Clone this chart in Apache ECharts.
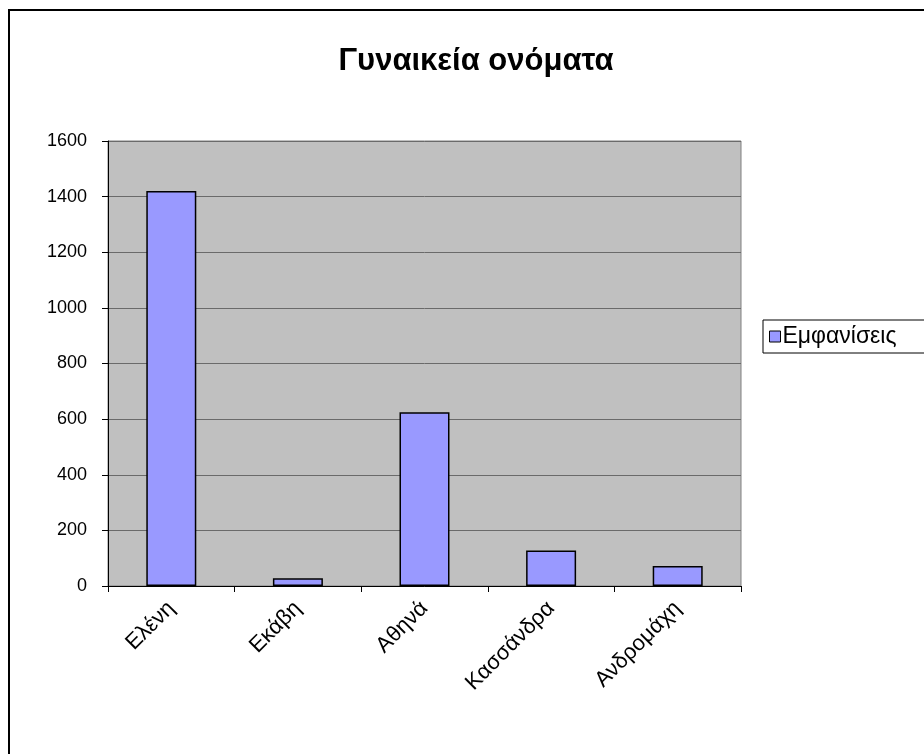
<!DOCTYPE html>
<html>
<head>
<meta charset="utf-8">
<style>
  html, body { margin: 0; padding: 0; background: #fff; }
  #myReport { width: 924px; height: 754px; }
</style>
</head>
<body>
<div id="myReport"></div>
<script type="text/javascript" src="https://cdn.jsdelivr.net/npm/echarts@6/dist/echarts.min.js"></script>
<script type="text/javascript">
var names = ['Ελένη', 'Εκάβη', 'Αθηνά', 'Κασσάνδρα', 'Ανδρομάχη'];
var counts = [1420, 28, 625, 128, 72];
var seriesName = 'Εμφανίσεις';
var chartTitle = 'Γυναικεία ονόματα';

var font = '"Liberation Sans", Arial, sans-serif';
var myChart = echarts.init(document.getElementById('myReport'));
var option = {
    backgroundColor: '#fff',
    animation: false,
    textStyle: { fontFamily: font },
    graphic: [{
        type: 'rect',
        shape: { x: 9, y: 10, width: 1000, height: 1000 },
        style: { fill: 'none', stroke: '#000', lineWidth: 2 },
        silent: true
    }],
    title: {
        text: chartTitle,
        left: 471,
        textAlign: 'center',
        top: 41,
        textStyle: { fontSize: 31, fontWeight: 'bold', color: '#000', fontFamily: font }
    },
    legend: {
        data: [seriesName],
        left: 763,
        top: 320,
        orient: 'vertical',
        borderColor: '#000',
        borderWidth: 1,
        padding: [5, 60, 5, 6],
        itemWidth: 11,
        itemHeight: 11,
        icon: 'rect',
        itemStyle: { borderColor: '#000', borderWidth: 1 },
        textStyle: { fontSize: 23, color: '#000', fontFamily: font, padding: [0, 0, 0, -3] }
    },
    grid: {
        left: 108,
        top: 141,
        width: 633,
        height: 445,
        show: true,
        backgroundColor: '#c0c0c0',
        borderColor: '#808080',
        borderWidth: 1
    },
    xAxis: {
        type: 'category',
        data: names,
        axisLine: { lineStyle: { color: '#000', width: 1 } },
        axisTick: { show: true, length: 6, lineStyle: { color: '#000' } },
        axisLabel: {
            interval: 0,
            rotate: 45,
            fontSize: 22,
            color: '#000',
            margin: 19,
            fontFamily: font
        }
    },
    yAxis: {
        type: 'value',
        min: 0,
        max: 1600,
        interval: 200,
        axisLine: { show: true, lineStyle: { color: '#000', width: 1 } },
        axisTick: { show: true, length: 6, lineStyle: { color: '#000' } },
        axisLabel: {
            fontSize: 18, color: '#000', margin: 21, fontFamily: font,
            formatter: function (v) { return String(v); }
        },
        splitLine: { show: true, lineStyle: { color: '#6a6a6a', width: 1 } }
    },
    series: [{
        name: seriesName,
        type: 'bar',
        data: counts,
        barWidth: 50,
        itemStyle: { color: '#9999ff', borderColor: '#000', borderWidth: 1.5 }
    }]
};
myChart.setOption(option);
</script>
</body>
</html>
